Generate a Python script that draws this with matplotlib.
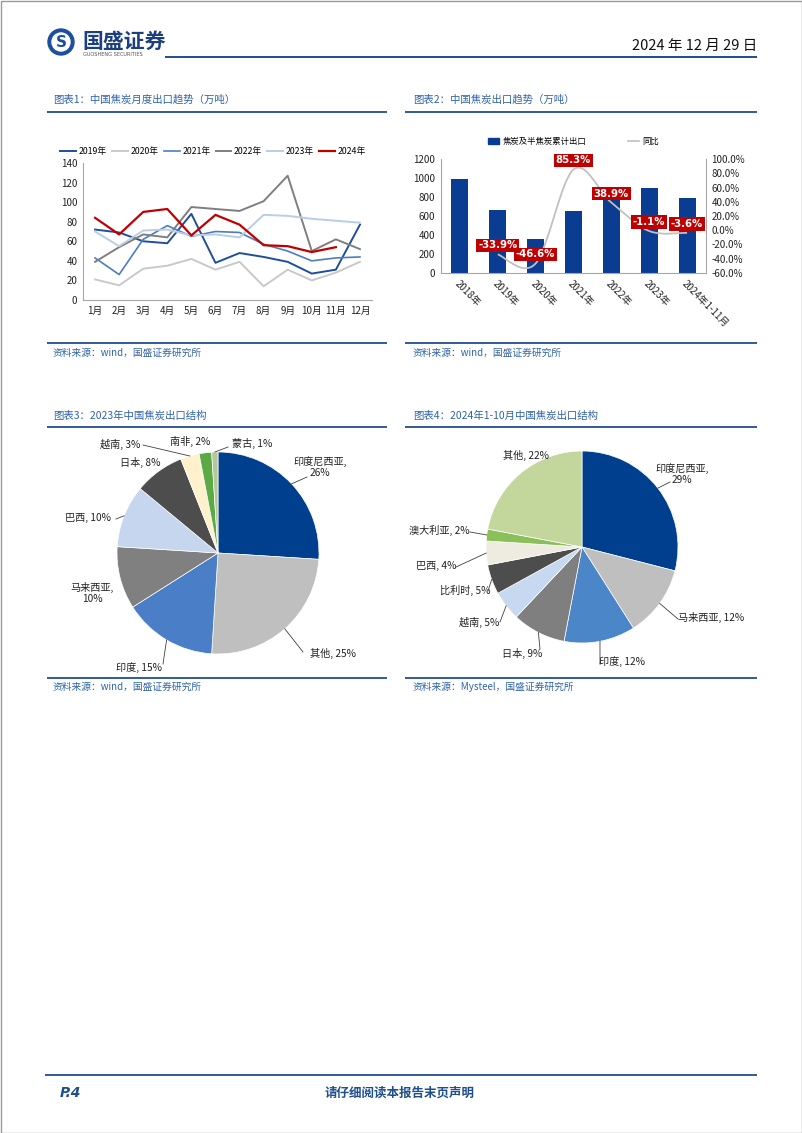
import numpy as np
import matplotlib
matplotlib.use("Agg")
import matplotlib.pyplot as plt
import matplotlib.patches as mpatches
from matplotlib.path import Path
from matplotlib.lines import Line2D

plt.rcParams['font.family'] = ['Noto Sans CJK SC', 'DejaVu Sans']

W, H = 802, 1133
BLUE = '#1F4E8C'
TBLUE = '#2F62A8'

# ---- data: chart 1 (monthly coke exports, 10k t)
months = ['1月', '2月', '3月', '4月', '5月', '6月', '7月', '8月', '9月', '10月', '11月', '12月']
exp_2019 = [72, 69, 60, 58, 88, 38, 48, 44, 39, 27, 31, 77]
exp_2020 = [21, 15, 32, 35, 42, 31, 39, 14, 31, 20, 28, 39]
exp_2021 = [43, 26, 62, 76, 65, 70, 69, 57, 50, 40, 43, 44]
exp_2022 = [39, 54, 67, 64, 95, 93, 91, 101, 127, 50, 62, 52]
exp_2023 = [70, 55, 71, 72, 66, 67, 64, 87, 86, 83, 81, 79]
exp_2024 = [84, 67, 90, 93, 66, 87, 77, 56, 55, 49, 54]

# ---- data: chart 2 (annual exports + yoy)
years = ['2018年', '2019年', '2020年', '2021年', '2022年', '2023年', '2024年1-11月']
annual_total = [990, 658, 355, 650, 910, 892, 786]
yoy = [None, -33.9, -46.6, 85.3, 38.9, -1.1, -3.6]

# ---- data: chart 3 (2023 structure)
pie23_names = ['印度尼西亚', '其他', '印度', '马来西亚', '巴西', '日本', '越南', '南非', '蒙古']
pie23_vals = [26, 25, 15, 10, 10, 8, 3, 2, 1]

# ---- data: chart 4 (2024 Jan-Oct structure)
pie24_names = ['印度尼西亚', '马来西亚', '印度', '日本', '越南', '比利时', '巴西', '澳大利亚', '其他']
pie24_vals = [29, 12, 12, 9, 5, 5, 4, 2, 22]

fig = plt.figure(figsize=(W / 100, H / 100), dpi=100)

# page overlay in pixel coordinates
page = fig.add_axes([0, 0, 1, 1])
page.set_xlim(0, W)
page.set_ylim(H, 0)
page.axis('off')


def px_axes(x0, y0, x1, y1):
    return fig.add_axes([x0 / W, 1 - y1 / H, (x1 - x0) / W, (y1 - y0) / H])


def hline(y, x0, x1, lw=1.3, color=BLUE):
    page.plot([x0, x1], [y, y], color=color, lw=lw, solid_capstyle='butt')


# border
page.add_patch(mpatches.Rectangle((0.5, 0.5), W - 1, H - 1, fill=False, ec='#9A9A9A', lw=1))

# header
page.add_patch(mpatches.Circle((61, 42), 13, color='#1C4FA0'))
page.add_patch(mpatches.Circle((61, 42), 9, color='white'))
page.text(61, 42.5, 'S', color='#1C4FA0', fontsize=11, fontweight='bold', ha='center', va='center',
          family='DejaVu Sans')
page.text(82, 41, '国盛证券', fontsize=15, fontweight='bold', color='#1B3F80', ha='left', va='center')
page.text(83, 54, 'GUOSHENG SECURITIES', fontsize=3.6, color='#555555', ha='left', va='center',
          family='DejaVu Sans')
page.text(757, 46, '2024 年 12 月 29 日', fontsize=10.5, color='#111111', ha='right', va='center')
hline(57, 165, 757, lw=1.4)

# section titles and rules
title_kw = dict(fontsize=7.5, color=TBLUE, ha='left', va='center')
src_kw = dict(fontsize=7, color=TBLUE, ha='left', va='center')
page.text(53, 100, '图表1：中国焦炭月度出口趋势（万吨）', **title_kw)
page.text(413, 100, '图表2：中国焦炭出口趋势（万吨）', **title_kw)
hline(112, 47, 387)
hline(112, 405, 757)
hline(343, 47, 387)
hline(343, 405, 757)
page.text(53, 353, '资料来源：wind，国盛证券研究所', **src_kw)
page.text(413, 353, '资料来源：wind，国盛证券研究所', **src_kw)

page.text(53, 416, '图表3：2023年中国焦炭出口结构', **title_kw)
page.text(413, 416, '图表4：2024年1-10月中国焦炭出口结构', **title_kw)
hline(427, 47, 387)
hline(427, 405, 757)
hline(678, 47, 387)
hline(678, 405, 757)
page.text(53, 687, '资料来源：wind，国盛证券研究所', **src_kw)
page.text(413, 687, '资料来源：Mysteel，国盛证券研究所', **src_kw)

# footer
hline(1075, 45, 757, lw=1.3)
page.text(60, 1093, 'P.4', fontsize=10, fontweight='bold', style='italic', color=BLUE,
          ha='left', va='center', family='DejaVu Sans')
page.text(400, 1093, '请仔细阅读本报告末页声明', fontsize=9, fontweight='bold', color=BLUE,
          ha='center', va='center')

# ---------------- chart 1
ax1 = px_axes(83, 163, 372, 300)
series = [
    ('2019年', exp_2019, '#1F4E9C', 1.4),
    ('2020年', exp_2020, '#C9C9C9', 1.4),
    ('2021年', exp_2021, '#4A7EC1', 1.2),
    ('2022年', exp_2022, '#7F7F7F', 1.4),
    ('2023年', exp_2023, '#B9CDE5', 1.4),
    ('2024年', exp_2024, '#C00000', 1.6),
]
xm = np.arange(1, 13)
for name, vals, col, lw in series:
    ax1.plot(xm[:len(vals)], vals, color=col, lw=lw, label=name)
ax1.set_xlim(0.5, 12.5)
ax1.set_ylim(0, 140)
ax1.set_yticks(range(0, 141, 20))
ax1.set_xticks(xm)
ax1.set_xticklabels(months)
for s in ['top', 'right']:
    ax1.spines[s].set_visible(False)
for s in ['left', 'bottom']:
    ax1.spines[s].set_color('#A6A6A6')
    ax1.spines[s].set_linewidth(0.8)
ax1.tick_params(axis='both', labelsize=7, length=0, pad=4, colors='#222222')
ax1.legend(ncol=6, loc='lower center', bbox_to_anchor=(0.45, 1.02), fontsize=6.3, frameon=False,
           handlelength=1.8, columnspacing=0.6, handletextpad=0.3, borderpad=0)

# ---------------- chart 2
ax2 = px_axes(441, 159, 706, 273)
xb = np.arange(len(years))
bars = ax2.bar(xb, annual_total, width=0.45, color='#0A3D91', label='焦炭及半焦炭累计出口', zorder=2)
ax2.set_xlim(-0.5, len(years) - 0.5)
ax2.set_ylim(0, 1200)
ax2.set_yticks(range(0, 1201, 200))
ax2.set_xticks(xb)
ax2.set_xticklabels(years, rotation=-45, ha='left', va='top', rotation_mode='anchor')
ax2.tick_params(axis='both', labelsize=7, length=0, pad=4, colors='#222222')
ax2.spines['top'].set_visible(False)
for s in ['left', 'bottom', 'right']:
    ax2.spines[s].set_color('#A6A6A6')
    ax2.spines[s].set_linewidth(0.8)

ax2r = ax2.twinx()
ax2r.set_ylim(-60, 100)
ax2r.set_yticks(range(-60, 101, 20))
ax2r.set_yticklabels([f'{v:.1f}%' for v in range(-60, 101, 20)])
ax2r.tick_params(axis='y', labelsize=7, length=0, pad=4, colors='#222222')
for s in ['top', 'left', 'bottom', 'right']:
    ax2r.spines[s].set_visible(False)

# smooth yoy line (Catmull-Rom style Bezier, like Excel smoothed line)
pts = np.array([(x, v) for x, v in zip(xb, yoy) if v is not None], dtype=float)
verts = [tuple(pts[0])]
codes = [Path.MOVETO]
n = len(pts)
for i in range(n - 1):
    p0 = pts[i - 1] if i > 0 else pts[i]
    p1, p2 = pts[i], pts[i + 1]
    p3 = pts[i + 2] if i + 2 < n else pts[i + 1]
    c1 = p1 + (p2 - p0) / 6.0
    c2 = p2 - (p3 - p1) / 6.0
    verts += [tuple(c1), tuple(c2), tuple(p2)]
    codes += [Path.CURVE4] * 3
ax2r.add_patch(mpatches.PathPatch(Path(verts, codes), fill=False, ec='#C0C0C0', lw=1.3, zorder=3))
for x, v in zip(xb, yoy):
    if v is None:
        continue
    ax2r.annotate(f'{v:.1f}%', (x, v), xytext=(0, 6.5), textcoords='offset points',
                  ha='center', va='center', fontsize=7.3, fontweight='bold', color='white',
                  family='DejaVu Sans',
                  bbox=dict(boxstyle='square,pad=0.18', fc='#C00000', ec='none'), zorder=5)

leg_handles = [mpatches.Patch(color='#0A3D91', label='焦炭及半焦炭累计出口'),
               Line2D([], [], color='#C0C0C0', lw=1.2, label='同比')]
ax2.legend(handles=leg_handles, ncol=2, loc='lower center', bbox_to_anchor=(0.5, 1.08), fontsize=6,
           frameon=False, handlelength=1.3, handleheight=0.8, columnspacing=5, handletextpad=0.4,
           borderpad=0)


# ---------------- pies
def draw_pie(box, center, radius, vals, names, colors, label_px, leaders):
    x0, y0, x1, y1 = box
    cx, cy = center
    ax = px_axes(x0, y0, x1, y1)
    ax.pie(vals, colors=colors, startangle=90, counterclock=False, radius=1,
           wedgeprops=dict(edgecolor='white', linewidth=0.5))
    ax.set_aspect('auto')
    ax.set_xlim((x0 - cx) / radius, (x1 - cx) / radius)
    ax.set_ylim((cy - y1) / radius, (cy - y0) / radius)
    ax.axis('off')
    cum = np.cumsum([0] + list(vals)) / float(sum(vals))
    for i, (name, v) in enumerate(zip(names, vals)):
        lx, ly, txt_fmt = label_px[i]
        txt = txt_fmt.format(name=name, v=v)
        ax.text((lx - cx) / radius, (cy - ly) / radius, txt, ha='center', va='center',
                fontsize=7.3, color='#222222', linespacing=1.15)
        if i in leaders:
            mid = np.deg2rad(90 - 360 * (cum[i] + cum[i + 1]) / 2)
            ex, ey = leaders[i]
            ax.plot([np.cos(mid), (ex - cx) / radius], [np.sin(mid), (cy - ey) / radius],
                    color='#404040', lw=0.6)
    return ax


pie23_colors = ['#003F8E', '#BFBFBF', '#4A7EC6', '#808080', '#C6D6EE', '#4D4D4D', '#FFF1CC', '#5CAA45', '#B4C89A']
pie23_labels = [
    (320, 467, '{name},\n{v}%'),
    (333, 653, '{name}, {v}%'),
    (139, 668, '{name}, {v}%'),
    (92, 593, '{name},\n{v}%'),
    (88, 518, '{name}, {v}%'),
    (140, 462, '{name}, {v}%'),
    (120, 444, '{name}, {v}%'),
    (190, 441, '{name}, {v}%'),
    (252, 443, '{name}, {v}%'),
]
pie23_leaders = {0: (307, 477), 1: (303, 652), 2: (163, 664), 4: (116, 519), 6: (143, 445), 8: (228, 447)}
draw_pie((47, 430, 387, 677), (218, 553), 101, pie23_vals, pie23_names, pie23_colors,
         pie23_labels, pie23_leaders)

pie24_colors = ['#003F8E', '#BFBFBF', '#4A86C8', '#7F7F7F', '#C6D9F1', '#4D4D4D', '#EEECE1', '#8BBF5A', '#C3D69B']
pie24_labels = [
    (682, 474, '{name},\n{v}%'),
    (711, 617, '{name}, {v}%'),
    (622, 662, '{name}, {v}%'),
    (522, 653, '{name}, {v}%'),
    (479, 622, '{name}, {v}%'),
    (465, 590, '{name}, {v}%'),
    (436, 566, '{name}, {v}%'),
    (439, 530, '{name}, {v}%'),
    (526, 455, '{name}, {v}%'),
]
pie24_leaders = {0: (670, 482), 1: (678, 619), 2: (600, 664), 3: (540, 649), 4: (500, 622),
                 5: (488, 591), 6: (456, 567), 7: (470, 532)}
draw_pie((405, 430, 757, 677), (582, 547), 96, pie24_vals, pie24_names, pie24_colors,
         pie24_labels, pie24_leaders)

fig.savefig('out.png', dpi=100)
